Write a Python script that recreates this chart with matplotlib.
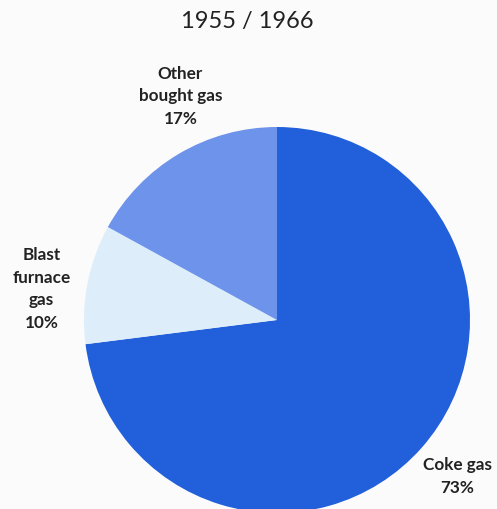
import matplotlib
matplotlib.use("Agg")
import matplotlib.pyplot as plt

# Gas supply shares
categories = ["Coke gas", "Blast\nfurnace\ngas", "Other\nbought gas"]
shares = [73, 10, 17]
colors = ["#2260db", "#ddeefa", "#6d93ea"]
title = "1955 / 1966"

W, H, DPI = 497, 509, 100
fig = plt.figure(figsize=(W / DPI, H / DPI), dpi=DPI)
fig.patch.set_facecolor("#fbfbfb")
ax = fig.add_axes([0, 0, 1, 1])
ax.set_facecolor("#fbfbfb")

# pie centre in pixel space and radius
cx, cy, r = 277, 320, 193

wedges, _ = ax.pie(shares, colors=colors, startangle=90, counterclock=False,
                   radius=1.0, center=(0, 0), frame=True)
ax.set_xlim(-cx / r, (W - cx) / r)
ax.set_ylim(-(H - cy) / r, cy / r)
ax.set_aspect("equal")
ax.axis("off")

label_pos = [(0.935, -0.81), (-1.22, 0.16), (-0.50, 1.16)]
for name, val, (x, y) in zip(categories, shares, label_pos):
    ax.text(x, y, f"{name}\n{val}%", ha="center", va="center",
            fontsize=12.3, fontweight="bold", family="Lato",
            color="#222222", linespacing=1.5)

ax.text(-0.155, 1.545, title, ha="center", va="center", fontsize=17,
        family="Lato", color="#222222")

fig.savefig("out.png", dpi=DPI, facecolor=fig.get_facecolor())
